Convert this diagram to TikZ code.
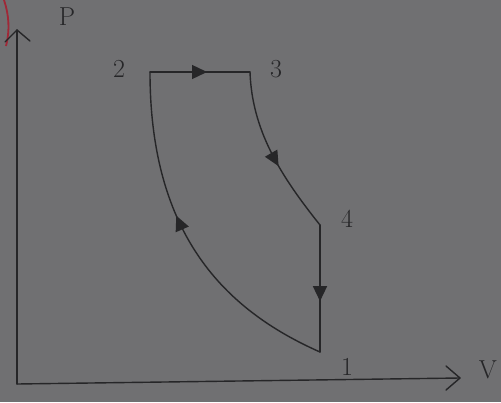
\documentclass[tikz,border=0pt]{standalone}
\usetikzlibrary{arrows.meta,decorations.markings}
\definecolor{paper}{RGB}{112,112,114}
\definecolor{pencil}{RGB}{38,38,40}
\definecolor{redpen}{RGB}{160,40,55}
\begin{document}
\begin{tikzpicture}[x=1pt,y=-1pt,
  pen/.style={draw=pencil,line width=1.4pt,line cap=round,line join=round},
  lbl/.style={text=pencil,font=\fontsize{26}{28}\selectfont,inner sep=0pt},
  midarrow/.style={postaction={decorate,decoration={markings,mark=at position #1 with {\arrow{Triangle[length=15pt,width=14pt]}}}}}]
\fill[paper] (0,0) rectangle (501,402);
\useasboundingbox (0,0) rectangle (501,402);
% red stroke at top left
\draw[redpen,line width=1.8pt] (4,0) .. controls (9,15) and (10,30) .. (6,46);
% axes
\coordinate (O) at (17,384);
\coordinate (ytop) at (17,30);
\coordinate (xend) at (460,378);
\draw[pen] (O) -- (ytop);
\draw[pen] (ytop) ++(-12,12) -- (ytop) -- ++(13,11);
\draw[pen] (O) -- (xend);
\draw[pen] (xend) ++(-14,-12) -- (xend) -- ++(-14,12);
\node[lbl] (P) at (67,17) {P};
\node[lbl] (V) at (488,370) {V};
% cycle points
\coordinate (p1) at (320,352);
\coordinate (p2) at (150,72);
\coordinate (p3) at (250,72);
\coordinate (p4) at (320,225);
\node[lbl] (l1) at (347,367) {1};
\node[lbl] (l2) at (119,69) {2};
\node[lbl] (l3) at (276,69) {3};
\node[lbl] (l4) at (347,219) {4};
% processes
\draw[pen,midarrow=0.57] (p2) -- (p3);
\draw[pen,midarrow=0.58] (p3) .. controls (252,130) and (280,175) .. (p4);
\draw[pen,midarrow=0.6] (p4) -- (p1);
\draw[pen,midarrow=0.58] (p1) .. controls (225,310) and (150,235) .. (p2);
\end{tikzpicture}
\end{document}
